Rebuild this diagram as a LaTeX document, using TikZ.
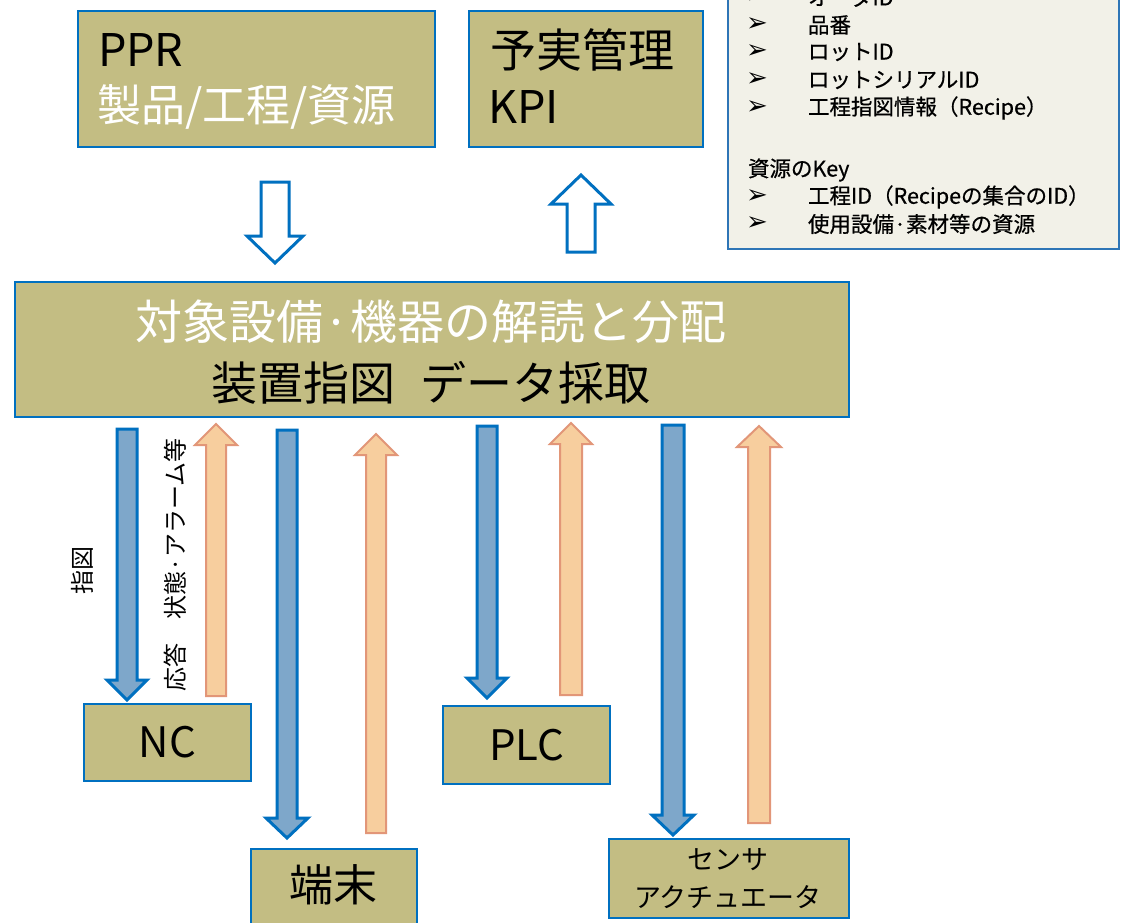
\documentclass[tikz,border=0pt]{standalone}
\usepackage{fontspec}
\setmainfont{Noto Sans CJK JP}
\newfontfamily\dejavu{DejaVu Sans}
\newfontfamily\notefont[FakeBold=0.6]{Noto Sans CJK JP}
\definecolor{olivefill}{RGB}{195,189,131}
\definecolor{boxblue}{RGB}{0,112,192}
\definecolor{barblue}{RGB}{126,167,202}
\definecolor{barorange}{RGB}{247,206,158}
\definecolor{orangeedge}{RGB}{226,150,120}
\definecolor{notefill}{RGB}{242,241,232}
\definecolor{noteedge}{RGB}{46,117,182}
\newcommand{\blockarr}[7][]{\draw[#1] ({#2-#6},#3) -- ({#2+#6},#3) -- ({#2+#6},#4) -- ({#2+#7},#4) -- (#2,#5) -- ({#2-#7},#4) -- ({#2-#6},#4) -- cycle;}
\newcommand{\fs}[1]{\fontsize{#1}{#1}\selectfont}
\tikzset{
  olivebox/.style={draw=boxblue, line width=2pt, fill=olivefill, anchor=north west, inner sep=0pt},
  notebox/.style={draw=noteedge, line width=2pt, fill=notefill, anchor=north west, inner sep=0pt},
  txt/.style={inner sep=0pt, outer sep=0pt},
  hollow/.style={draw=boxblue, line width=3pt, fill=white},
  downbar/.style={draw=boxblue, line width=3pt, fill=barblue},
  upbar/.style={draw=orangeedge, line width=2pt, fill=barorange},
  notetxt/.style={txt, anchor=west, font=\notefont\fs{21.5}},
  bul/.style={txt, font=\dejavu\fs{26}},
}
\begin{document}
\begin{tikzpicture}[x=1pt,y=-1pt]
\useasboundingbox (0,0) rectangle (1121,922);
\clip (0,0) rectangle (1121,922);
\fill[white] (0,0) rectangle (1121,922);

% top boxes
\node[olivebox, minimum width=357pt, minimum height=136pt] (ppr) at (77,10) {};
\node[txt, anchor=base west, font=\fs{45}] (pprt) at (98,66) {PPR};
\node[txt, anchor=west, font=\fs{44}, text=white] (pprs) at (97,107) {製品/工程/資源};

\node[olivebox, minimum width=234pt, minimum height=136pt] (kpi) at (468,10) {};
\node[txt, anchor=west, font=\fs{46}] (kpit) at (490,50) {予実管理};
\node[txt, anchor=base west, font=\fs{45}] (kpis) at (488,123) {KPI};

% note box
\node[notebox, minimum width=391pt, minimum height=268pt] (note) at (727,-20) {};
\node[bul] at (757,-3) {➢};
\node[notetxt] at (808,-3) {オーダID};
\node[bul] at (757,25) {➢};
\node[notetxt] at (808,25) {品番};
\node[bul] at (757,52) {➢};
\node[notetxt] at (808,52) {ロットID};
\node[bul] at (757,80) {➢};
\node[notetxt] at (808,80) {ロットシリアルID};
\node[bul] at (757,108) {➢};
\node[notetxt] at (808,108) {工程指図情報（Recipe）};
\node[notetxt] at (748,170) {資源のKey};
\node[bul] at (757,197) {➢};
\node[notetxt] at (808,197) {工程ID（Recipeの集合のID）};
\node[bul] at (757,224) {➢};
\node[notetxt] at (808,224) {使用設備·素材等の資源};

% main box
\node[olivebox, minimum width=834pt, minimum height=135pt] (main) at (14,281) {};
\node[txt, font=\fs{47}, text=white] (m1) at (431,322) {対象設備·機器の解読と分配};
\node[txt, font=\fs{46}] (m2) at (431,383) {装置指図\hspace{26pt}データ採取};

% device boxes
\node[olivebox, minimum width=167pt, minimum height=77pt] (nc) at (83,703) {};
\node[txt, font=\fs{42}] at (nc.center) {NC};
\node[olivebox, minimum width=167pt, minimum height=78pt] (plc) at (442,705) {};
\node[txt, font=\fs{42}] at (plc.center) {PLC};
\node[olivebox, minimum width=166pt, minimum height=100pt] (term) at (250,848) {};
\node[txt, font=\fs{44}] at (333,885) {端末};
\node[olivebox, minimum width=240pt, minimum height=79pt] (sens) at (608,838) {};
\node[txt, font=\fs{27}] at (728,860) {センサ};
\node[txt, font=\fs{27}] at (728,897) {アクチュエータ};

% hollow arrows
\blockarr[hollow]{275}{182}{236}{263}{14}{28}
\blockarr[hollow]{581}{252}{204}{175}{14}{30}

% bars
\blockarr[downbar]{127}{429}{680}{700}{10}{20}
\blockarr[upbar]{216}{696}{445}{424}{10}{21}
\blockarr[downbar]{287}{430}{818}{838}{10}{21}
\blockarr[upbar]{376}{833}{455}{434}{10}{21}
\blockarr[downbar]{487}{426}{678}{698}{10}{20}
\blockarr[upbar]{571}{695}{444}{423}{11}{21}
\blockarr[downbar]{673}{425}{815}{835}{11}{21}
\blockarr[upbar]{759}{823}{447}{426}{11}{22}

% rotated labels
\node[txt, rotate=90, font=\fs{24}] (lbl1) at (82,570) {指図};
\node[txt, rotate=90, font=\fs{24}] (lbl2) at (175,565) {応答　状態·アラーム等};
\end{tikzpicture}
\end{document}
